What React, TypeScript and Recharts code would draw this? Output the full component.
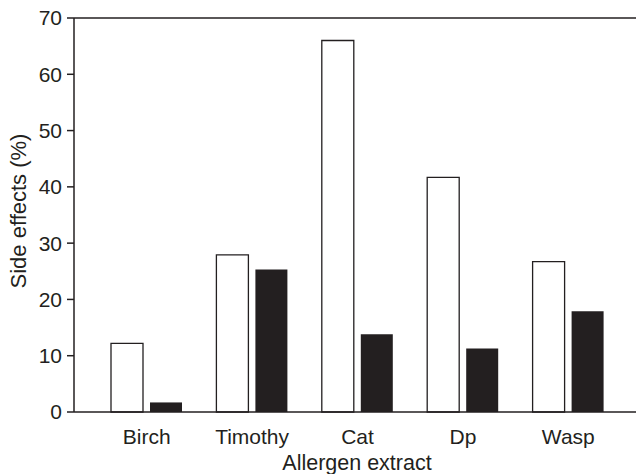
import React from 'react';
import { BarChart, Bar, XAxis, YAxis, ReferenceLine, Label } from 'recharts';

const categories = ['Birch', 'Timothy', 'Cat', 'Dp', 'Wasp'];
const whiteValues = [12.2, 27.9, 66, 41.7, 26.7];
const blackValues = [1.7, 25.3, 13.8, 11.3, 17.9];
const yTicks = [0, 10, 20, 30, 40, 50, 60, 70];

const data = categories.map((c, i) => ({ name: c, white: whiteValues[i], black: blackValues[i] }));

const INK = '#231f20';
const FONT = '"Liberation Sans", Arial, Helvetica, sans-serif';

export default function App() {
  return (
    <div style={{ position: 'absolute', left: 0, top: 0, width: 636, height: 474, background: '#fff' }}>
      <BarChart
        width={636}
        height={474}
        data={data}
        margin={{ top: 18, right: 0, bottom: 0, left: 0 }}
        barSize={32}
        barGap={7}
        style={{ fontFamily: FONT }}
      >
        <XAxis
          dataKey="name"
          height={62}
          padding={{ left: 20, right: 15 }}
          tickLine={false}
          tickSize={6}
          tickMargin={11}
          axisLine={{ stroke: INK, strokeWidth: 1.5 }}
          tick={{ fill: INK, fontSize: 21, fontFamily: FONT }}
        >
          <Label
            content={() => (
              <text x={357} y={470} textAnchor="middle" fill={INK} fontSize={21.5} fontFamily={FONT}>
                Allergen extract
              </text>
            )}
          />
        </XAxis>
        <YAxis
          width={74}
          domain={[0, 70]}
          ticks={yTicks}
          interval={0}
          tickSize={7}
          tickMargin={5}
          axisLine={{ stroke: INK, strokeWidth: 1.5 }}
          tickLine={{ stroke: INK, strokeWidth: 1.5 }}
          tick={{ fill: INK, fontSize: 21, fontFamily: FONT }}
        >
          <Label
            content={() => (
              <text
                x={18}
                y={211}
                transform="rotate(-90 18 211)"
                textAnchor="middle"
                dominantBaseline="central"
                fill={INK}
                fontSize={22}
                fontFamily={FONT}
              >
                Side effects (%)
              </text>
            )}
          />
        </YAxis>
        <ReferenceLine y={70} stroke={INK} strokeWidth={1.5} ifOverflow="visible" />
        <Bar dataKey="white" fill="#ffffff" stroke={INK} strokeWidth={1.3} isAnimationActive={false} />
        <Bar dataKey="black" fill={INK} isAnimationActive={false} />
      </BarChart>
    </div>
  );
}
